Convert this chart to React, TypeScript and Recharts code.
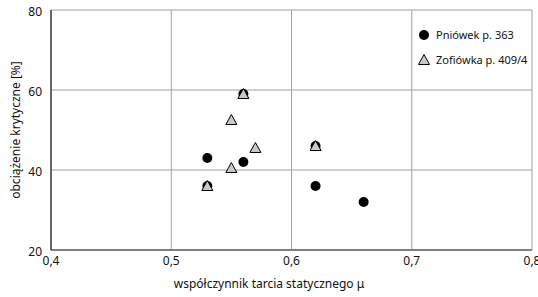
import { ScatterChart, Scatter, XAxis, YAxis, CartesianGrid } from 'recharts';

const xTicks = [0.4, 0.5, 0.6, 0.7, 0.8];
const yTicks = [20, 40, 60, 80];

const pniowekMu = [0.53, 0.53, 0.56, 0.56, 0.62, 0.62, 0.66];
const pniowekLoad = [43, 36, 42, 59, 46, 36, 32];

const zofiowkaMu = [0.53, 0.55, 0.55, 0.56, 0.57, 0.62];
const zofiowkaLoad = [36, 52.5, 40.5, 59, 45.5, 46];

const pniowek = pniowekMu.map((mu, i) => ({ mu, load: pniowekLoad[i] }));
const zofiowka = zofiowkaMu.map((mu, i) => ({ mu, load: zofiowkaLoad[i] }));

const FONT = '"Noto Sans", "Open Sans", sans-serif';

const Dot = (props: any) => {
    const { cx, cy } = props;
    return <circle cx={cx} cy={cy} r={5} fill="#000" />;
};

const Tri = (props: any) => {
    const { cx, cy } = props;
    const pts = `${cx},${cy - 5.5} ${cx + 5.5},${cy + 4.5} ${cx - 5.5},${cy + 4.5}`;
    return <polygon points={pts} fill="#c8c8c8" stroke="#000" strokeWidth={1} />;
};

const LegendBox = () => (
    <div style={{ position: 'absolute', top: 22, left: 418, fontFamily: FONT, fontSize: 11, color: '#111', lineHeight: '25px' }}>
        <div style={{ display: 'flex', alignItems: 'center' }}>
            <svg width={12} height={12}><circle cx={6} cy={6} r={5} fill="#000" /></svg>
            <span style={{ marginLeft: 6 }}>Pniówek p. 363</span>
        </div>
        <div style={{ display: 'flex', alignItems: 'center' }}>
            <svg width={12} height={12}><polygon points="6,0.5 11.5,10.5 0.5,10.5" fill="#c8c8c8" stroke="#000" /></svg>
            <span style={{ marginLeft: 6 }}>Zofiówka p. 409/4</span>
        </div>
    </div>
);

export default function App() {
    return (
        <div style={{ width: 538, height: 297, background: '#fff', position: 'relative' }}>
            <style>{'body{margin:0}'}</style>
            <ScatterChart width={538} height={297} margin={{ top: 10, right: 6, bottom: 0, left: 0 }}>
                <CartesianGrid stroke="#a0a0a0" strokeWidth={1} horizontalValues={yTicks} verticalValues={xTicks} />
                <XAxis
                    type="number"
                    dataKey="mu"
                    domain={[0.4, 0.8]}
                    ticks={xTicks}
                    interval={0}
                    height={47}
                    tickLine={false}
                    tickSize={0}
                    tickMargin={6}
                    axisLine={{ stroke: '#808080', strokeWidth: 2 }}
                    tickFormatter={(v: number) => v.toFixed(1).replace('.', ',')}
                    tick={{ fill: '#111', fontSize: 12, fontFamily: FONT }}
                    label={() => (
                        <text x={269} y={288} textAnchor="middle" fill="#111" fontSize={12} fontFamily={FONT}>
                            współczynnik tarcia statycznego μ
                        </text>
                    )}
                />
                <YAxis
                    type="number"
                    dataKey="load"
                    domain={[20, 80]}
                    ticks={yTicks}
                    interval={0}
                    width={51}
                    tickLine={false}
                    tickSize={0}
                    tickMargin={9}
                    axisLine={{ stroke: '#000', strokeWidth: 1 }}
                    tick={{ fill: '#111', fontSize: 12, fontFamily: FONT, dy: 2 }}
                    label={() => (
                        <text x={17} y={130} transform="rotate(-90 17 130)" textAnchor="middle" dominantBaseline="middle" fill="#111" fontSize={12} fontFamily={FONT}>
                            obciążenie krytyczne [%]
                        </text>
                    )}
                />
                <Scatter name="Pniówek p. 363" data={pniowek} shape={<Dot />} isAnimationActive={false} />
                <Scatter name="Zofiówka p. 409/4" data={zofiowka} shape={<Tri />} isAnimationActive={false} />
            </ScatterChart>
            <LegendBox />
        </div>
    );
}
